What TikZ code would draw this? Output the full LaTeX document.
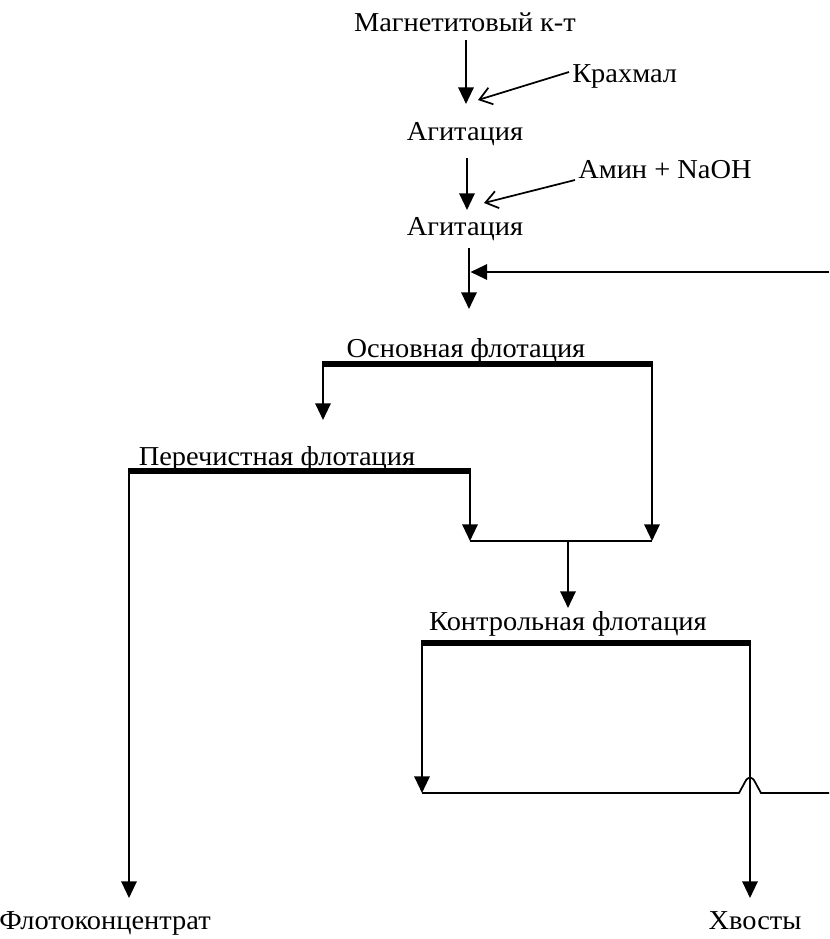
\documentclass[tikz,border=0pt]{standalone}
\usepackage{fontspec}
\setmainfont{Liberation Serif}[FakeStretch=1.04]
\usetikzlibrary{arrows.meta}
\begin{document}
\begin{tikzpicture}[x=0.75pt,y=-0.75pt,
  lbl/.style={inner sep=0pt, font=\fontsize{20.5pt}{24pt}\selectfont},
  flow/.style={line width=1.6pt, -{Triangle[length=12.5pt,width=11.5pt]}},
  thin/.style={line width=1.3pt},
  feed/.style={line width=1.3pt, -{Straight Barb[length=9pt,width=13pt,line width=1.3pt]}},
  bar/.style={line width=3.8pt}]
\useasboundingbox (0,0) rectangle (829,939);
\fill[white] (0,0) rectangle (829,939);

% texts
\node[lbl, anchor=base] (mag) at (465,31) {Магнетитовый к-т};
\node[lbl, anchor=base west] (krah) at (572,82) {Крахмал};
\node[lbl, anchor=base] (agit1) at (465,140) {Агитация};
\node[lbl, anchor=base west] (amin) at (578,178) {Амин + NaOH};
\node[lbl, anchor=base] (agit2) at (465,235) {Агитация};
\node[lbl, anchor=base] (osn) at (466,357) {Основная флотация};
\node[lbl, anchor=base] (per) at (277,465) {Перечистная флотация};
\node[lbl, anchor=base] (kon) at (568,630) {Контрольная флотация};
\node[lbl, anchor=base] (flc) at (105,929) {Флотоконцентрат};
\node[lbl, anchor=base] (hv) at (755,929) {Хвосты};

% coordinates
\coordinate (a1s) at (466,40);   \coordinate (a1e) at (466,104);
\coordinate (k1s) at (569,72);   \coordinate (k1e) at (478,100);
\coordinate (a2s) at (467,158);  \coordinate (a2e) at (467,210);
\coordinate (k2s) at (575,180);  \coordinate (k2e) at (484,203);
\coordinate (a3s) at (469,248);  \coordinate (a3e) at (469,309);
\coordinate (rcR) at (829,272);  \coordinate (rcL) at (470.5,272);
\coordinate (oL) at (323,364);   \coordinate (oR) at (652,364);
\coordinate (oLe) at (323,420);
\coordinate (pL) at (129,471);   \coordinate (pR) at (470,471);
\coordinate (jL) at (470,541);   \coordinate (jR) at (652,541);
\coordinate (jM) at (568,541);   \coordinate (jMe) at (568,608);
\coordinate (cL) at (422,643);   \coordinate (cR) at (750,643);
\coordinate (cLe) at (422,793);
\coordinate (fle) at (129,898);  \coordinate (hve) at (750,898);

% top chain
\draw[flow] (a1s) -- (a1e);
\draw[feed] (k1s) -- (k1e);
\draw[flow] (a2s) -- (a2e);
\draw[feed] (k2s) -- (k2e);
\draw[flow] (a3s) -- (a3e);
\draw[flow] (rcR) -- (rcL);

% main flotation
\draw[bar] ([xshift=-0.6pt]oL) -- ([xshift=0.6pt]oR);
\draw[flow] (oL) -- (oLe);
\draw[flow] (oR) -- (jR);

% cleaner flotation
\draw[bar] ([xshift=-0.6pt]pL) -- ([xshift=0.6pt]pR);
\draw[flow] (pR) -- (jL);
\draw[flow] (pL) -- (fle);

% join
\draw[thin] (jL) -- (jR);
\draw[flow] (jM) -- (jMe);

% control flotation
\draw[bar] ([xshift=-0.6pt]cL) -- ([xshift=0.6pt]cR);
\draw[flow] (cL) -- (cLe);
\draw[flow] (cR) -- (hve);
\draw[thin] (cLe) -- (739,793) -- (745,782)
  .. controls (748,776) and (752,776) .. (755,782) -- (761,793) -- (rcR |- cLe);
\end{tikzpicture}
\end{document}
